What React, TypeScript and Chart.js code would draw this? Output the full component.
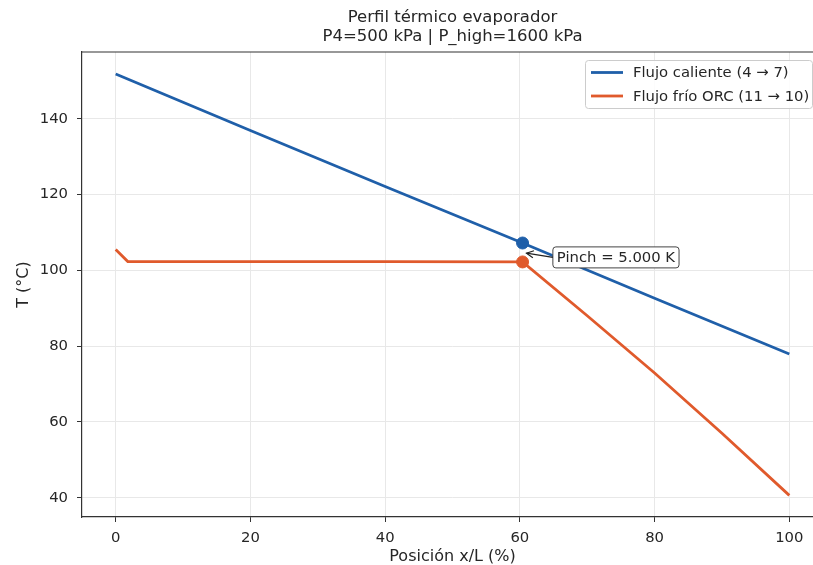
import { useEffect, useRef } from "react";
import { Chart, registerables } from "chart.js";
Chart.register(...registerables);

const titleLines = ["Perfil térmico evaporador", "P4=500 kPa | P_high=1600 kPa"];
const xTitle = "Posición x/L (%)";
const yTitle = "T (°C)";
const hotLabel = "Flujo caliente (4 → 7)";
const coldLabel = "Flujo frío ORC (11 → 10)";
const hotX = [0, 20, 40, 60.4, 80, 100];
const hotT = [151.8, 136.9, 122.1, 107.2, 92.6, 77.9];
const coldX = [0, 1.8, 20, 40, 60.4, 70, 80, 90, 100];
const coldT = [105.5, 102.3, 102.3, 102.3, 102.2, 88.0, 72.9, 57.0, 40.6];
const pinchX = [60.4];
const pinchHot = [107.2];
const pinchCold = [102.2];
const pinchText = "Pinch = 5.000 K";
const pinchTextX = [64.9];
const pinchTextY = [103.4];
const xTicks = [0, 20, 40, 60, 80, 100];
const yTicks = [40, 60, 80, 100, 120, 140];

const BLUE = "#1f5fa9";
const ORANGE = "#e05a2c";
const FONT = "DejaVu Sans";
const TXT = "#262626";
const SPINE = "#333333";

const overlay = {
  id: "overlay",
  afterDraw(chart: any) {
    const { ctx, chartArea: a, scales } = chart;
    const xs = scales.x, ys = scales.y;
    ctx.save();
    // top/right spines
    ctx.strokeStyle = SPINE;
    ctx.lineWidth = 1.2;
    ctx.beginPath();
    ctx.moveTo(a.left, a.top);
    ctx.lineTo(a.right, a.top);
    ctx.lineTo(a.right, a.bottom);
    ctx.stroke();

    // annotation
    ctx.font = `14.8px "${FONT}"`;
    const tw = ctx.measureText(pinchText).width;
    const bx = xs.getPixelForValue(pinchTextX[0]);
    const by = ys.getPixelForValue(pinchTextY[0]);
    const padX = 4, h = 21;
    const bw = tw + padX * 2;
    ctx.fillStyle = "#ffffff";
    ctx.strokeStyle = "#444444";
    ctx.lineWidth = 1;
    ctx.beginPath();
    (ctx as any).roundRect(bx, by - h / 2, bw, h, 3);
    ctx.fill();
    ctx.stroke();
    ctx.fillStyle = TXT;
    ctx.textBaseline = "middle";
    ctx.textAlign = "left";
    ctx.fillText(pinchText, bx + padX, by + 1);
    // arrow
    const px = xs.getPixelForValue(pinchX[0]);
    const py = (ys.getPixelForValue(pinchHot[0]) + ys.getPixelForValue(pinchCold[0])) / 2;
    const sx = bx, sy = by;
    const dx = sx - px, dy = sy - py;
    const len = Math.hypot(dx, dy);
    const ux = dx / len, uy = dy / len;
    const tx = px + ux * 4, ty = py + uy * 4;
    ctx.strokeStyle = "#222222";
    ctx.lineWidth = 1.2;
    ctx.beginPath();
    ctx.moveTo(sx, sy);
    ctx.lineTo(tx, ty);
    ctx.stroke();
    const ah = 7, aw = 3.5;
    const nx = -uy, ny = ux;
    ctx.beginPath();
    ctx.moveTo(tx + ux * ah + nx * aw, ty + uy * ah + ny * aw);
    ctx.lineTo(tx, ty);
    ctx.lineTo(tx + ux * ah - nx * aw, ty + uy * ah - ny * aw);
    ctx.stroke();

    // legend
    const lx = 585, ly = 60, lw = 227, lh = 48;
    ctx.fillStyle = "rgba(255,255,255,0.85)";
    ctx.strokeStyle = "#cccccc";
    ctx.lineWidth = 1;
    ctx.beginPath();
    (ctx as any).roundRect(lx + 0.5, ly + 0.5, lw, lh, 3);
    ctx.fill();
    ctx.stroke();
    const items = [
      { label: chart.data.datasets[0].label, color: BLUE, y: 72.5 },
      { label: chart.data.datasets[1].label, color: ORANGE, y: 96 },
    ];
    ctx.font = `14.8px "${FONT}"`;
    for (const it of items) {
      ctx.strokeStyle = it.color;
      ctx.lineWidth = 2.8;
      ctx.beginPath();
      ctx.moveTo(591, it.y);
      ctx.lineTo(623, it.y);
      ctx.stroke();
      ctx.fillStyle = TXT;
      ctx.fillText(it.label, 633, it.y + 1);
    }
    ctx.restore();
  },
};

export default function App() {
  const ref = useRef<HTMLCanvasElement>(null);
  useEffect(() => {
    if (!ref.current) return;
    const tickFont = { family: FONT, size: 14.8 };
    const chart = new Chart(ref.current, {
      type: "line",
      data: {
        datasets: [
          {
            label: hotLabel,
            data: hotX.map((x, i) => ({ x, y: hotT[i] })),
            borderColor: BLUE,
            borderWidth: 2.8,
            pointRadius: 0,
            tension: 0,
          },
          {
            label: coldLabel,
            data: coldX.map((x, i) => ({ x, y: coldT[i] })),
            borderColor: ORANGE,
            borderWidth: 2.8,
            pointRadius: 0,
            tension: 0,
          },
          {
            label: "pinch caliente",
            data: pinchX.map((x, i) => ({ x, y: pinchHot[i] })),
            showLine: false,
            pointRadius: 6,
            backgroundColor: BLUE,
            borderColor: BLUE,
          },
          {
            label: "pinch frío",
            data: pinchX.map((x, i) => ({ x, y: pinchCold[i] })),
            showLine: false,
            pointRadius: 6,
            backgroundColor: ORANGE,
            borderColor: ORANGE,
          },
        ],
      } as any,
      options: {
        animation: false,
        responsive: false,
        maintainAspectRatio: false,
        layout: { padding: { left: 0, right: 6, top: 0, bottom: 0 } },
        plugins: {
          legend: { display: false },
          tooltip: { enabled: false },
          title: {
            display: true,
            fullSize: false,
            text: titleLines,
            color: TXT,
            font: { family: FONT, size: 16.5, weight: "normal", lineHeight: 1.2 },
            padding: { top: 7.5, bottom: 4.9 },
          },
        },
        scales: {
          x: {
            type: "linear",
            min: -5,
            max: 105,
            afterBuildTicks: (s: any) => {
              s.ticks = xTicks.map((v) => ({ value: v }));
            },
            afterFit: (s: any) => {
              s.height = 48;
            },
            grid: { color: "#e8e8e8", lineWidth: 1, tickColor: SPINE, tickLength: 5, drawTicks: true },
            border: { color: SPINE, width: 1.2 },
            ticks: { font: tickFont, color: TXT, padding: 7, maxRotation: 0 },
            title: {
              display: true,
              text: xTitle,
              color: TXT,
              font: { family: FONT, size: 16, lineHeight: 1.2 },
              padding: { top: 0, bottom: -1.5 },
            },
          },
          y: {
            type: "linear",
            min: 34.9,
            max: 157.6,
            afterBuildTicks: (s: any) => {
              s.ticks = yTicks.map((v) => ({ value: v }));
            },
            afterFit: (s: any) => {
              s.width = 82;
            },
            grid: { color: "#e8e8e8", lineWidth: 1, tickColor: SPINE, tickLength: 5, drawTicks: true },
            border: { color: SPINE, width: 1.2 },
            ticks: { font: tickFont, color: TXT, padding: 9 },
            title: {
              display: true,
              text: yTitle,
              color: TXT,
              font: { family: FONT, size: 16, lineHeight: 1.2 },
              padding: { top: 14, bottom: 0 },
            },
          },
        },
      } as any,
      plugins: [overlay],
    });
    return () => chart.destroy();
  }, []);
  return (
    <div style={{ position: "fixed", left: 0, top: 0, width: 813, height: 565, overflow: "hidden", background: "#fff" }}>
      <canvas ref={ref} width={830} height={565} style={{ display: "block" }} />
    </div>
  );
}
